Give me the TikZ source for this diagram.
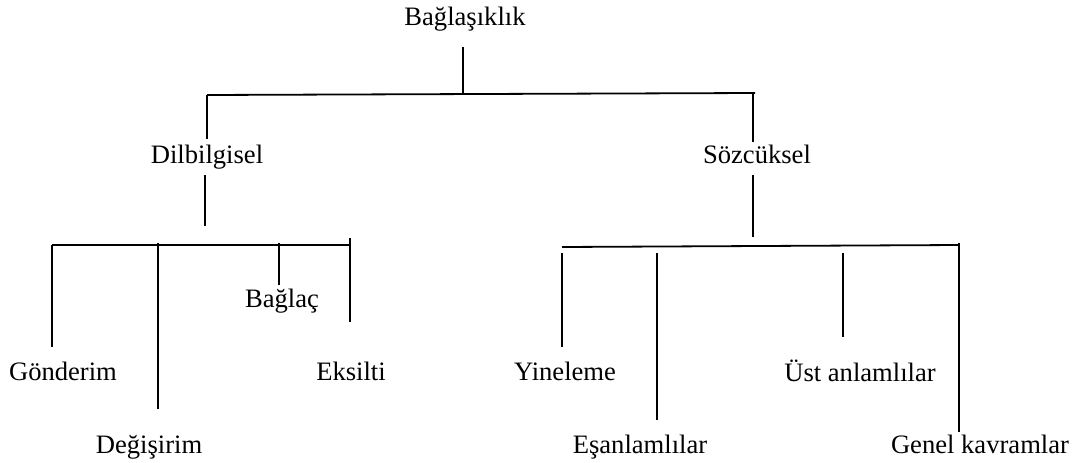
\documentclass[tikz,border=0pt]{standalone}
\usepackage{fontspec}
\setmainfont{Liberation Serif}
\begin{document}
\begin{tikzpicture}[x=1pt,y=-1pt,
  lbl/.style={anchor=base, inner sep=0pt, font=\fontsize{26.6}{32}\selectfont},
  conn/.style={line width=1.8pt, line cap=butt, black}]
\useasboundingbox (0,0) rectangle (1076,463);
% labels
\node[lbl] (root) at (465,25) {Bağlaşıklık};
\node[lbl] (dil) at (207,163) {Dilbilgisel};
\node[lbl] (soz) at (757,163) {Sözcüksel};
\node[lbl] (gon) at (63,380) {Gönderim};
\node[lbl] (deg) at (149,453) {Değişirim};
\node[lbl] (bag) at (282,307) {Bağlaç};
\node[lbl] (eks) at (351,380) {Eksilti};
\node[lbl] (yin) at (565,380) {Yineleme};
\node[lbl] (esa) at (640,453) {Eşanlamlılar};
\node[lbl] (ust) at (860,381) {Üst anlamlılar};
\node[lbl] (gen) at (980,453) {Genel kavramlar};
% junction coordinates
\coordinate (rA) at (463,47);  \coordinate (rB) at (463,94);
\coordinate (tL) at (207,95);  \coordinate (tR) at (755,93);
\coordinate (dA) at (207,139);
\coordinate (sA) at (753,93);  \coordinate (sB) at (753,142);
\coordinate (dC) at (205,175); \coordinate (dD) at (205,226);
\coordinate (sC) at (753,175); \coordinate (sD) at (753,237);
\coordinate (lL) at (52,245);  \coordinate (lR) at (350,245);
\coordinate (gA) at (52,347);
\coordinate (eA) at (158,243); \coordinate (eB) at (158,409);
\coordinate (bA) at (279,243); \coordinate (bB) at (279,285);
\coordinate (kA) at (350,238); \coordinate (kB) at (350,322);
\coordinate (rL) at (562,247); \coordinate (rR) at (959,245);
\coordinate (yA) at (562,253); \coordinate (yB) at (562,347);
\coordinate (aA) at (657,253); \coordinate (aB) at (657,420);
\coordinate (uA) at (843,253); \coordinate (uB) at (843,337);
\coordinate (nA) at (959,243); \coordinate (nB) at (959,432);
% connectors
\draw[conn] (rA) -- (rB);
\draw[conn] (tL) -- (tR);
\draw[conn] (tL) -- (dA);
\draw[conn] (sA) -- (sB);
\draw[conn] (dC) -- (dD);
\draw[conn] (sC) -- (sD);
\draw[conn] (lL) -- (lR);
\draw[conn] (lL) -- (gA);
\draw[conn] (eA) -- (eB);
\draw[conn] (bA) -- (bB);
\draw[conn] (kA) -- (kB);
\draw[conn] (rL) -- (rR);
\draw[conn] (yA) -- (yB);
\draw[conn] (aA) -- (aB);
\draw[conn] (uA) -- (uB);
\draw[conn] (nA) -- (nB);
\end{tikzpicture}
\end{document}
